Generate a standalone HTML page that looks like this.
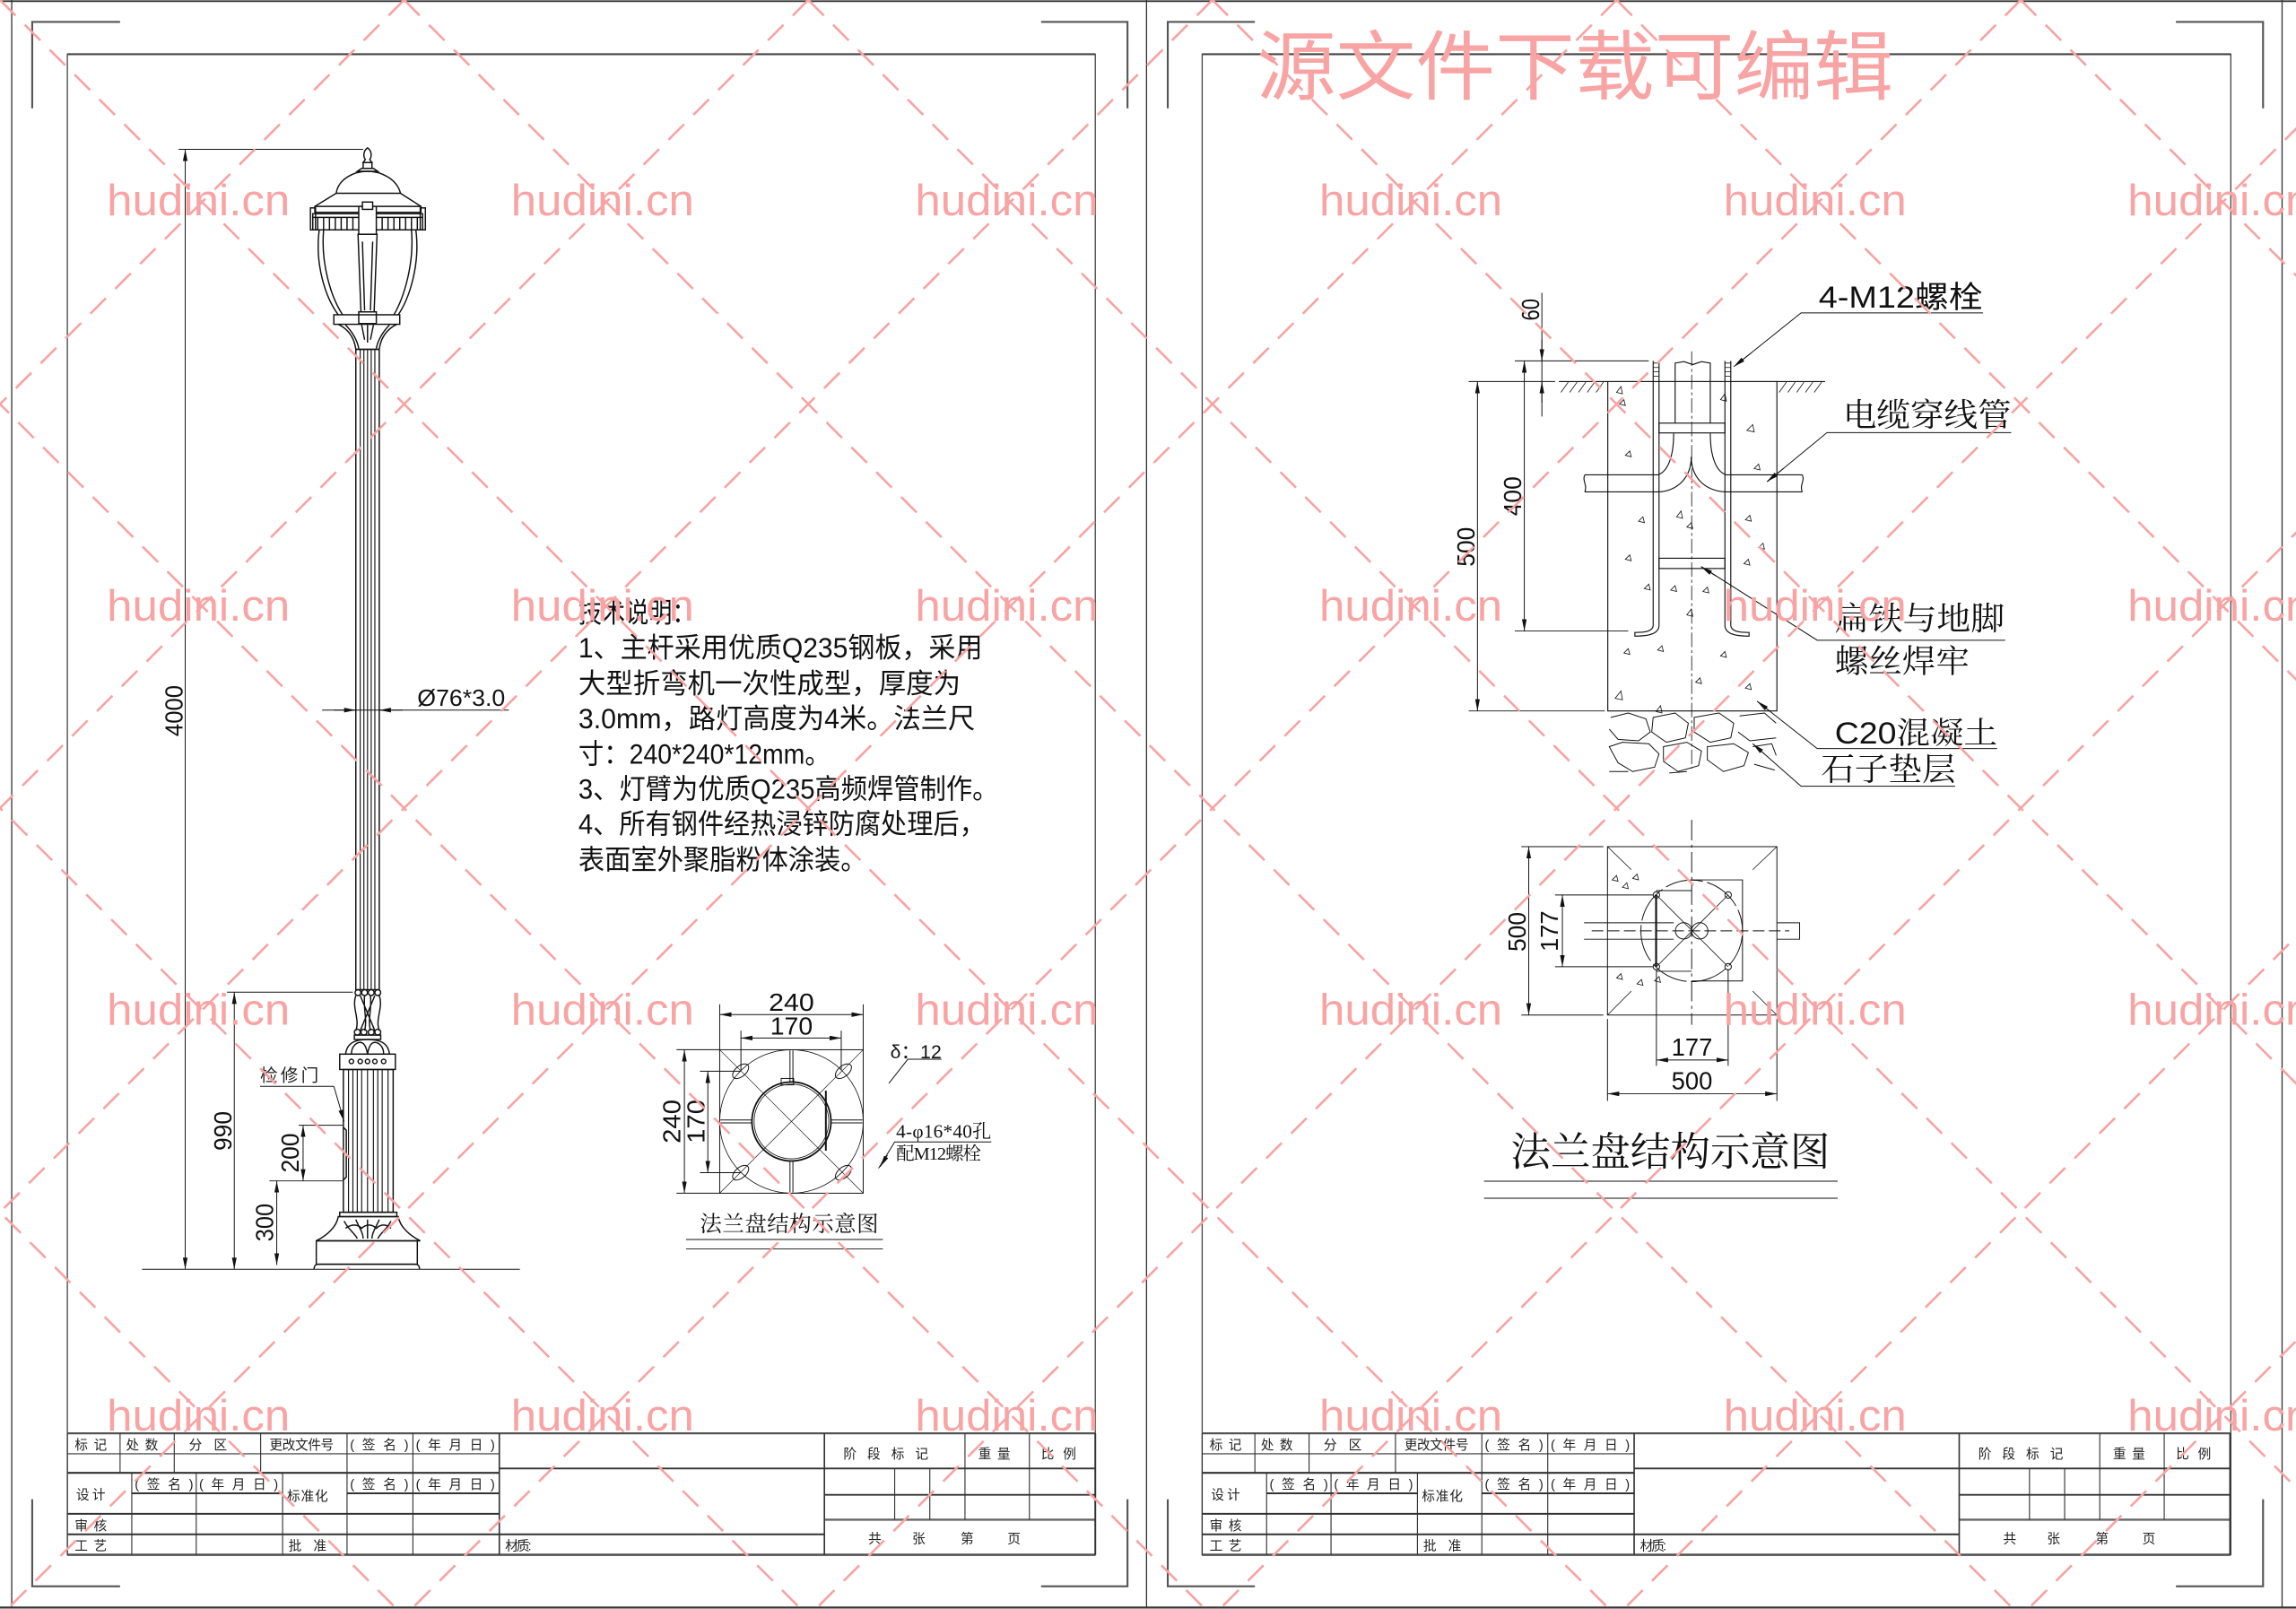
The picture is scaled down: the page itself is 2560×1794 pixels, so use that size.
<!DOCTYPE html>
<html><head><meta charset="utf-8">
<style>
html,body{margin:0;padding:0;background:#fff;}
svg{display:block;}
</style></head>
<body>
<svg xmlns="http://www.w3.org/2000/svg" width="2560" height="1794" viewBox="0 0 1568 1099" preserveAspectRatio="none">
<defs>
<marker id="ar" markerUnits="userSpaceOnUse" markerWidth="9" markerHeight="4" refX="8" refY="1.6" orient="auto-start-reverse">
<path d="M0,0 L8,1.6 L0,3.2 z" fill="#111"/>
</marker>
</defs>
<rect width="1568" height="1099" fill="#fff"/>

<g fill="none" stroke="#333" stroke-width="0.8">
<line x1="0" y1="0.8" x2="1568" y2="0.8" stroke-width="1.2"/>
<line x1="0" y1="1098" x2="1568" y2="1098" stroke-width="1.4"/>
<line x1="8" y1="0" x2="8" y2="1098"/>
<line x1="783" y1="0" x2="783" y2="1098"/>
<line x1="1558.5" y1="0" x2="1558.5" y2="1098"/>
</g>
<g fill="none" stroke="#555" stroke-width="1.3">
<polyline points="22,74 22,15 82,15"/><polyline points="711,15 770,15 770,74"/>
<polyline points="22,1024 22,1083.5 82,1083.5"/><polyline points="711,1083.5 770,1083.5 770,1024"/>
<polyline points="797.5,74 797.5,15 857,15"/><polyline points="1486,15 1545.5,15 1545.5,74"/>
<polyline points="797.5,1024 797.5,1083.5 857,1083.5"/><polyline points="1486,1083.5 1545.5,1083.5 1545.5,1024"/>
</g>
<g fill="none" stroke="#444" stroke-width="0.8">
<rect x="46" y="37" width="702" height="1025"/>
<rect x="821" y="37" width="702.5" height="1025"/>
<line x1="46" y1="37" x2="748" y2="37" stroke-width="1.3"/>
<line x1="821" y1="37" x2="1523.5" y2="37" stroke-width="1.3"/>
</g>

<g id="tb">
<g fill="none" stroke="#333" stroke-width="0.7">
<line x1="46" y1="979" x2="748" y2="979" stroke-width="1.4" stroke="#555"/>
<line x1="46" y1="993" x2="341" y2="993"/>
<line x1="46" y1="1006" x2="341" y2="1006" stroke-width="1.3"/>
<line x1="90" y1="1020" x2="193" y2="1020" stroke-width="1.2"/>
<line x1="237" y1="1020" x2="341" y2="1020" stroke-width="1.2"/>
<line x1="46" y1="1034" x2="341" y2="1034" stroke-width="1.2"/>
<line x1="46" y1="1048" x2="563" y2="1048" stroke-width="1.2"/>
<line x1="46" y1="1062" x2="748" y2="1062" stroke-width="1.6" stroke="#555"/>
<line x1="341" y1="1003" x2="748" y2="1003" stroke-width="1.1"/>
<line x1="563" y1="1021" x2="748" y2="1021" stroke-width="1.1"/>
<line x1="563" y1="1038" x2="748" y2="1038" stroke-width="1.4" stroke="#666"/>
<line x1="46" y1="979" x2="46" y2="1062"/>
<line x1="748" y1="979" x2="748" y2="1062" stroke-width="1.2"/>
<line x1="82" y1="979" x2="82" y2="1006"/>
<line x1="119" y1="979" x2="119" y2="1006"/>
<line x1="178" y1="979" x2="178" y2="1006"/>
<line x1="237" y1="979" x2="237" y2="1062"/>
<line x1="282" y1="979" x2="282" y2="1062"/>
<line x1="341" y1="979" x2="341" y2="1062" stroke-width="1"/>
<line x1="90" y1="1006" x2="90" y2="1062"/>
<line x1="134" y1="1006" x2="134" y2="1062"/>
<line x1="193" y1="1006" x2="193" y2="1062"/>
<line x1="563" y1="979" x2="563" y2="1062" stroke-width="1"/>
<line x1="611" y1="1003" x2="611" y2="1038"/>
<line x1="635" y1="1003" x2="635" y2="1038"/>
<line x1="659" y1="979" x2="659" y2="1038"/>
<line x1="703" y1="979" x2="703" y2="1038"/>
</g>
<g font-family="'Liberation Sans','Noto Sans CJK SC',sans-serif" font-size="9" fill="#222">
<text x="51" y="990" textLength="22">标 记</text>
<text x="86" y="990" textLength="22">处 数</text>
<text x="129" y="990" textLength="26">分 区</text>
<text x="184" y="990" textLength="44">更改文件号</text>
<text x="239" y="990" textLength="40">( 签 名 )</text>
<text x="284" y="990" textLength="54">( 年 月 日 )</text>
<text x="52" y="1024" textLength="20">设 计</text>
<text x="92" y="1017" textLength="40">( 签 名 )</text>
<text x="136" y="1017" textLength="54">( 年 月 日 )</text>
<text x="196" y="1025" textLength="28">标准化</text>
<text x="239" y="1017" textLength="40">( 签 名 )</text>
<text x="284" y="1017" textLength="54">( 年 月 日 )</text>
<text x="51" y="1045" textLength="22">审 核</text>
<text x="51" y="1059" textLength="22">工 艺</text>
<text x="197" y="1059" textLength="26">批 准</text>
<text x="345" y="1059" textLength="18">材质:</text>
<text x="576" y="996" textLength="58">阶 段 标 记</text>
<text x="668" y="996" textLength="22">重 量</text>
<text x="711" y="996" textLength="24">比 例</text>
<text x="593" y="1054">共</text>
<text x="623" y="1054">张</text>
<text x="656" y="1054">第</text>
<text x="688" y="1054">页</text>
</g>
</g>
<g transform="translate(775,0)">
<g fill="none" stroke="#333" stroke-width="0.7">
<line x1="46" y1="979" x2="748" y2="979" stroke-width="1.4" stroke="#555"/>
<line x1="46" y1="993" x2="341" y2="993"/>
<line x1="46" y1="1006" x2="341" y2="1006" stroke-width="1.3"/>
<line x1="90" y1="1020" x2="193" y2="1020" stroke-width="1.2"/>
<line x1="237" y1="1020" x2="341" y2="1020" stroke-width="1.2"/>
<line x1="46" y1="1034" x2="341" y2="1034" stroke-width="1.2"/>
<line x1="46" y1="1048" x2="563" y2="1048" stroke-width="1.2"/>
<line x1="46" y1="1062" x2="748" y2="1062" stroke-width="1.6" stroke="#555"/>
<line x1="341" y1="1003" x2="748" y2="1003" stroke-width="1.1"/>
<line x1="563" y1="1021" x2="748" y2="1021" stroke-width="1.1"/>
<line x1="563" y1="1038" x2="748" y2="1038" stroke-width="1.4" stroke="#666"/>
<line x1="46" y1="979" x2="46" y2="1062"/>
<line x1="748" y1="979" x2="748" y2="1062" stroke-width="1.2"/>
<line x1="82" y1="979" x2="82" y2="1006"/>
<line x1="119" y1="979" x2="119" y2="1006"/>
<line x1="178" y1="979" x2="178" y2="1006"/>
<line x1="237" y1="979" x2="237" y2="1062"/>
<line x1="282" y1="979" x2="282" y2="1062"/>
<line x1="341" y1="979" x2="341" y2="1062" stroke-width="1"/>
<line x1="90" y1="1006" x2="90" y2="1062"/>
<line x1="134" y1="1006" x2="134" y2="1062"/>
<line x1="193" y1="1006" x2="193" y2="1062"/>
<line x1="563" y1="979" x2="563" y2="1062" stroke-width="1"/>
<line x1="611" y1="1003" x2="611" y2="1038"/>
<line x1="635" y1="1003" x2="635" y2="1038"/>
<line x1="659" y1="979" x2="659" y2="1038"/>
<line x1="703" y1="979" x2="703" y2="1038"/>
</g>
<g font-family="'Liberation Sans','Noto Sans CJK SC',sans-serif" font-size="9" fill="#222">
<text x="51" y="990" textLength="22">标 记</text>
<text x="86" y="990" textLength="22">处 数</text>
<text x="129" y="990" textLength="26">分 区</text>
<text x="184" y="990" textLength="44">更改文件号</text>
<text x="239" y="990" textLength="40">( 签 名 )</text>
<text x="284" y="990" textLength="54">( 年 月 日 )</text>
<text x="52" y="1024" textLength="20">设 计</text>
<text x="92" y="1017" textLength="40">( 签 名 )</text>
<text x="136" y="1017" textLength="54">( 年 月 日 )</text>
<text x="196" y="1025" textLength="28">标准化</text>
<text x="239" y="1017" textLength="40">( 签 名 )</text>
<text x="284" y="1017" textLength="54">( 年 月 日 )</text>
<text x="51" y="1045" textLength="22">审 核</text>
<text x="51" y="1059" textLength="22">工 艺</text>
<text x="197" y="1059" textLength="26">批 准</text>
<text x="345" y="1059" textLength="18">材质:</text>
<text x="576" y="996" textLength="58">阶 段 标 记</text>
<text x="668" y="996" textLength="22">重 量</text>
<text x="711" y="996" textLength="24">比 例</text>
<text x="593" y="1054">共</text>
<text x="623" y="1054">张</text>
<text x="656" y="1054">第</text>
<text x="688" y="1054">页</text>
</g>
</g>

<g fill="none" stroke="#111" stroke-width="0.9">
<path d="M251,101 C254,103 254,107 252.5,109 L254,111 L248,111 L249.5,109 C248,107 248,103 251,101 Z"/>
<rect x="248" y="111" width="6" height="4"/>
<path d="M244,117 L247,115 L255,115 L258,117 Z"/>
<path d="M229.6,132 C231,122 242,117 251,117 C260,117 271,122 273.5,132 Z"/>
<path d="M229.6,132 L215,141 L215,145 L287.5,145 L287.5,141 L273.5,132"/>
<line x1="215" y1="141" x2="287.5" y2="141"/>
<rect x="212" y="142" width="3.5" height="15"/><rect x="287" y="142" width="3.5" height="15"/>
<rect x="213.6" y="146" width="75" height="11"/>
<line x1="213.6" y1="148.5" x2="288.6" y2="148.5"/>
<path d="M217,148.5V157M221,148.5V157M225,148.5V157M229,148.5V157M233,148.5V157M237,148.5V157M241,148.5V157M261,148.5V157M265,148.5V157M269,148.5V157M273,148.5V157M277,148.5V157M281,148.5V157M285,148.5V157"/>
<rect x="245" y="141" width="12" height="19" fill="#fff"/>
<rect x="247.5" y="138" width="7" height="5" fill="#fff"/>
<path d="M218,157 C215,180 222,203 231,215"/>
<path d="M221,157 C219,180 226,203 234,215"/>
<path d="M284,157 C287,180 280,203 272,215"/>
<path d="M281,157 C283,180 276,203 269,215"/>
<path d="M244.5,160 L246.5,213 L255.5,213 L257.5,160 Z"/>
<path d="M247.5,165 L249,212 M254.5,165 L253,212"/>
<rect x="228" y="215" width="45" height="6.5"/>
<rect x="245" y="213" width="12" height="8"/>
<path d="M231,221.5 C238,225 242,231 243,238.6 L259,238.6 C260,231 264,225 271,221.5"/>
<path d="M236,222 C240,226 244,232 245,238 M266,222 C262,226 258,232 257,238 M247,222 L249,232 M255,222 L253,232 M251,222 V234"/>
<rect x="243" y="238.6" width="16" height="437.4"/>
<path d="M246,238.6V676M248.5,238.6V676M251,238.6V676M253.5,238.6V676M256,238.6V676" stroke-width="0.7"/>
<circle cx="244.5" cy="678" r="2"/><circle cx="249" cy="678" r="2"/><circle cx="253.5" cy="678" r="2"/><circle cx="258" cy="678" r="2"/>
<path d="M243,680 C240,688 246,696 243,704 M259,680 C262,688 256,696 259,704 M246,680 L256,704 M256,680 L246,704 M249,680 C248,690 251,696 249,704 M253,680 C254,690 251,696 253,704"/>
<circle cx="244" cy="705" r="2"/><circle cx="248.5" cy="705" r="2"/><circle cx="253.5" cy="705" r="2"/><circle cx="258" cy="705" r="2"/>
<rect x="242" y="707" width="18" height="3"/>
<path d="M236,720 C237,712 243,710 251,710 C259,710 265,712 266,720 Z"/>
<path d="M240,720 C240,714 244,712 246,712 C248,712 250,714 251,720 C252,714 254,712 256,712 C258,712 262,714 262,720"/>
<rect x="232" y="720" width="38" height="10.5"/>
<circle cx="240" cy="725" r="1.5"/><circle cx="246" cy="725" r="1.5"/><circle cx="251" cy="725" r="1.5"/><circle cx="256" cy="725" r="1.5"/><circle cx="262" cy="725" r="1.5"/>
<rect x="234.5" y="730.5" width="34" height="97.5"/>
<path d="M238,730.5V828M241,730.5V828M244,730.5V828M247,730.5V828M251,730.5V828M255,730.5V828M258,730.5V828M261,730.5V828M265,730.5V828" stroke-width="0.7"/>
<path d="M234.5,770 L236.5,772 L236.5,804 L234.5,806"/>
<rect x="232" y="828" width="39" height="3"/>
<path d="M231,831 L272,831 C273,838 280,844 287,847.5 L216,847.5 C223,844 230,838 231,831 Z"/>
<path d="M235,834 C238,840 242,842 244,846 M243,833 C245,838 248,842 248,846 M251,833 V846 M259,833 C257,838 254,842 254,846 M267,834 C264,840 260,842 258,846"/>
<path d="M236,839 C240,836 244,836 247,839 C250,836 254,836 257,839 C260,836 264,836 267,839"/>
<rect x="216" y="847.5" width="69" height="16"/>
<path d="M214.5,867 C214.5,864 216,863.5 218,863.5 L283,863.5 C285,863.5 286.5,864 286.5,867"/>
</g>

<g fill="none" stroke="#111" stroke-width="0.6">
<line x1="122" y1="102" x2="248" y2="102"/>
<line x1="97" y1="867" x2="355" y2="867"/>
<line x1="126.5" y1="102" x2="126.5" y2="867" marker-start="url(#ar)" marker-end="url(#ar)"/>
<line x1="155" y1="677.7" x2="241" y2="677.7"/>
<line x1="160" y1="677.7" x2="160" y2="867" marker-start="url(#ar)" marker-end="url(#ar)"/>
<line x1="204" y1="768.6" x2="234" y2="768.6"/>
<line x1="184" y1="806.6" x2="234" y2="806.6"/>
<line x1="207" y1="768.6" x2="207" y2="806.6" marker-start="url(#ar)" marker-end="url(#ar)"/>
<line x1="189" y1="806.6" x2="189" y2="864" marker-start="url(#ar)" marker-end="url(#ar)"/>
<line x1="177.6" y1="742" x2="228" y2="742"/>
<line x1="228" y1="742" x2="235" y2="766" marker-end="url(#ar)"/>
<line x1="220" y1="485" x2="347.5" y2="485"/>
<line x1="228" y1="485" x2="243" y2="485" marker-end="url(#ar)"/>
<line x1="275" y1="485" x2="259" y2="485" marker-end="url(#ar)"/>
</g>
<g font-family="'Liberation Sans',sans-serif" font-size="17" fill="#111">
<text transform="translate(124.5,503) rotate(-90)" textLength="35" lengthAdjust="spacingAndGlyphs">4000</text>
<text transform="translate(158,786) rotate(-90)" textLength="27" lengthAdjust="spacingAndGlyphs">990</text>
<text transform="translate(204,801) rotate(-90)" textLength="27" lengthAdjust="spacingAndGlyphs">200</text>
<text transform="translate(186.5,848) rotate(-90)" textLength="26" lengthAdjust="spacingAndGlyphs">300</text>
<text x="285" y="482" font-size="16" textLength="60" lengthAdjust="spacingAndGlyphs">Ø76*3.0</text>
</g>
<text x="177.6" y="738.5" font-family="'Liberation Sans','Noto Sans CJK SC',sans-serif" font-size="12" fill="#222" textLength="40">检修门</text>

<g font-family="'Liberation Sans','Noto Sans CJK SC',sans-serif" font-size="19" fill="#111">
<text x="395" y="425" textLength="80" lengthAdjust="spacingAndGlyphs">技术说明：</text>
<text x="395" y="449" textLength="276" lengthAdjust="spacingAndGlyphs">1、主杆采用优质Q235钢板，采用</text>
<text x="395" y="473.5" textLength="261" lengthAdjust="spacingAndGlyphs">大型折弯机一次性成型，厚度为</text>
<text x="395" y="497.5" textLength="271" lengthAdjust="spacingAndGlyphs">3.0mm，路灯高度为4米。法兰尺</text>
<text x="395" y="521.5" textLength="172" lengthAdjust="spacingAndGlyphs">寸：240*240*12mm。</text>
<text x="395" y="545.5" textLength="287" lengthAdjust="spacingAndGlyphs">3、灯臂为优质Q235高频焊管制作。</text>
<text x="395" y="569.5" textLength="278" lengthAdjust="spacingAndGlyphs">4、所有钢件经热浸锌防腐处理后，</text>
<text x="395" y="594" textLength="197" lengthAdjust="spacingAndGlyphs">表面室外聚脂粉体涂装。</text>
</g>

<g fill="none" stroke="#111" stroke-width="0.6">
<rect x="491.5" y="717" width="98" height="98"/>
<line x1="491.5" y1="717" x2="589.5" y2="815" stroke-width="0.4"/>
<line x1="589.5" y1="717" x2="491.5" y2="815" stroke-width="0.4"/>
<circle cx="540.5" cy="766" r="49" stroke-width="0.5"/>
<circle cx="540.5" cy="766" r="27" stroke-width="1.1"/>
<circle cx="540.5" cy="766" r="25.5" stroke-width="0.5"/>
<path d="M539.5,717.5V739M541.5,717.5V739M539.5,793V814.5M541.5,793V814.5M492,765H513.5M492,767H513.5M567.5,765H589M567.5,767H589"/>
<rect x="533.5" y="736.6" width="8.5" height="4.4"/>
<line x1="564" y1="745" x2="564" y2="786" stroke-width="1.2"/>
<ellipse cx="505.8" cy="731.7" rx="6.5" ry="3.6" transform="rotate(-40 505.8 731.7)"/>
<ellipse cx="576" cy="731.7" rx="6.5" ry="3.6" transform="rotate(-40 576 731.7)"/>
<ellipse cx="505.8" cy="801" rx="6.5" ry="3.6" transform="rotate(-40 505.8 801)"/>
<ellipse cx="576" cy="801" rx="6.5" ry="3.6" transform="rotate(-40 576 801)"/>
<line x1="491.5" y1="686" x2="491.5" y2="717"/>
<line x1="589.5" y1="686" x2="589.5" y2="717"/>
<line x1="491.5" y1="693" x2="589.5" y2="693" marker-start="url(#ar)" marker-end="url(#ar)"/>
<line x1="506" y1="704" x2="506" y2="731"/>
<line x1="574.5" y1="704" x2="574.5" y2="731"/>
<line x1="506" y1="709" x2="574.5" y2="709" marker-start="url(#ar)" marker-end="url(#ar)"/>
<line x1="462" y1="717" x2="491.5" y2="717"/>
<line x1="462" y1="815" x2="491.5" y2="815"/>
<line x1="467.4" y1="717" x2="467.4" y2="815" marker-start="url(#ar)" marker-end="url(#ar)"/>
<line x1="478" y1="731.7" x2="505.8" y2="731.7"/>
<line x1="478" y1="801" x2="505.8" y2="801"/>
<line x1="483.4" y1="731.7" x2="483.4" y2="801" marker-start="url(#ar)" marker-end="url(#ar)"/>
<polyline points="607,740 620,723.5 643,723.5"/>
<polyline points="677,780 611,780 600,798" />
<line x1="606" y1="789" x2="601" y2="797" marker-end="url(#ar)"/>
<line x1="468.5" y1="846.6" x2="603" y2="846.6"/>
<line x1="468.5" y1="853" x2="603" y2="853"/>
</g>
<g font-family="'Liberation Sans',sans-serif" font-size="17" fill="#111">
<text x="540.5" y="690.5" text-anchor="middle" textLength="31" lengthAdjust="spacingAndGlyphs">240</text>
<text x="540.5" y="706.5" text-anchor="middle" textLength="29" lengthAdjust="spacingAndGlyphs">170</text>
<text transform="translate(464.5,781) rotate(-90)" textLength="30" lengthAdjust="spacingAndGlyphs">240</text>
<text transform="translate(481,781) rotate(-90)" textLength="30" lengthAdjust="spacingAndGlyphs">170</text>
<text x="608" y="723" font-size="13" textLength="35">δ：12</text>
<text x="612" y="777" font-size="13" textLength="65" font-family="'Liberation Serif','Noto Serif CJK SC',serif">4-φ16*40孔</text>
<text x="612" y="792" font-size="12.5" textLength="58" font-family="'Liberation Serif','Noto Serif CJK SC',serif">配M12螺栓</text>
<text x="478" y="841" font-size="15" textLength="122" font-family="'Liberation Serif','Noto Serif CJK SC',serif">法兰盘结构示意图</text>
</g>

<g fill="none" stroke="#111" stroke-width="0.7">
<rect x="1098" y="260.6" width="115.5" height="225"/>
<line x1="1064.6" y1="260.6" x2="1098" y2="260.6"/>
<line x1="1213.5" y1="260.6" x2="1246.4" y2="260.6"/>
<path d="M1066,268l5,-7M1072,268l5,-7M1078,268l5,-7M1084,268l5,-7M1090,268l5,-7M1215,268l5,-7M1221,268l5,-7M1227,268l5,-7M1233,268l5,-7M1239,268l5,-7" stroke-width="0.5"/>
<path d="M1144,289 V248 L1150,247 L1156,249 L1162,247 L1168,248 V289"/>
<rect x="1133" y="289" width="45" height="6.7"/>
<rect x="1133" y="381.3" width="45" height="7"/>
<path d="M1129,246.5 V427 C1129,431 1124,432 1116.5,432 L1116.5,434.5 C1126,434.5 1133,433 1133,427 V246.5"/>
<path d="M1178,246.5 V427 C1178,433 1185,434.5 1194.5,434.5 L1194.5,432 C1187,432 1182,431 1182,427 V246.5"/>
<path d="M1129,248h4M1129,251h4M1129,254h4M1129,257h4M1178,248h4M1178,251h4M1178,254h4M1178,257h4" stroke-width="0.5"/>
<path d="M1082.3,324.3 H1133 M1082.3,336 H1133 M1178,324.3 H1230.8 M1178,336 H1230.8"/>
<path d="M1082.3,324.3 c-2,4 2,7 0,11.7 M1230.8,324.3 c2,4 -2,7 0,11.7"/>
<path d="M1143,296 C1143,314 1138,322 1133,324 M1168,296 C1168,314 1173,322 1178,324"/>
<path d="M1155,312 C1155,326 1146,335 1133,336 M1155,312 C1155,326 1164,335 1178,336"/>
<line x1="1155.3" y1="240" x2="1155.3" y2="525" stroke-width="0.5" stroke-dasharray="10 2 2 2"/>
<g stroke-width="0.6">
<path d="M1100,490 L1112,487 L1124,491 L1127,500 L1119,506 L1105,505 L1099,498"/>
<path d="M1129,490 L1144,487 L1153,494 L1151,504 L1138,507 L1128,500 Z"/>
<path d="M1157,490 L1174,487 L1184,494 L1182,504 L1168,507 L1157,500 Z"/>
<path d="M1188,489 L1205,487 L1213,494 M1187,500 L1195,506 L1213,504"/>
<path d="M1099,510 L1108,507 L1126,508 L1133,515 L1130,524 L1115,527 L1105,521 Z"/>
<path d="M1136,510 L1152,507 L1162,513 L1160,523 L1146,527 L1136,520 Z"/>
<path d="M1166,510 L1184,508 L1194,514 L1191,523 L1177,527 L1166,519 Z"/>
<path d="M1197,510 L1210,508 L1213,516 M1198,522 L1212,526"/>
<path d="M1099,527 L1112,527 M1140,528 L1152,527"/>
</g>
<g stroke-width="0.5">
<path d="M1104,268l3,-4l1,5z M1106,276l3,-3l1,4z M1175,273l3,-4l1,5z M1193,294l4,-4l1,5z M1110,311l3,-3l1,4z M1198,320l3,-3l1,4z M1119,356l3,-3l1,4z M1145,353l3,-4l1,5z M1152,360l3,-3l1,4z M1192,355l3,-3l1,4z M1201,374l3,-3l1,4z M1110,382l3,-3l1,4z M1191,385l3,-3l1,4z M1123,402l3,-3l1,4z M1141,403l3,-3l1,4z M1163,404l3,-3l1,4z M1152,420l3,-4l1,5z M1109,446l3,-3l1,4z M1132,444l3,-3l1,4z M1175,448l3,-3l1,4z M1158,466l3,-3l1,4z M1103,477l4,-5l1,6z M1192,470l3,-3l1,4z M1131,486l3,-4l1,5z"/>
</g>
</g>
<g fill="none" stroke="#111" stroke-width="0.6">
<line x1="1034.5" y1="246.5" x2="1126" y2="246.5"/>
<line x1="1003" y1="260.6" x2="1062" y2="260.6"/>
<line x1="1034.5" y1="431" x2="1112" y2="431"/>
<line x1="1003" y1="485.6" x2="1096" y2="485.6"/>
<line x1="1009" y1="260.6" x2="1009" y2="485.6" marker-start="url(#ar)" marker-end="url(#ar)"/>
<line x1="1041" y1="246.5" x2="1041" y2="431" marker-start="url(#ar)" marker-end="url(#ar)"/>
<line x1="1053" y1="200" x2="1053" y2="284.5"/>
<line x1="1053" y1="232" x2="1053" y2="246.5" marker-end="url(#ar)"/>
<line x1="1053" y1="275" x2="1053" y2="260.6" marker-end="url(#ar)"/>
<polyline points="1354.3,213.7 1230,213.7 1186,249"/>
<line x1="1196" y1="241" x2="1184" y2="250.5" marker-end="url(#ar)"/>
<polyline points="1373.5,295.5 1247.7,295.5 1207,329"/>
<line x1="1218" y1="320" x2="1206.7" y2="329" marker-end="url(#ar)"/>
<polyline points="1369.4,437.3 1241,437.3 1162,387"/>
<line x1="1172" y1="393.5" x2="1161.6" y2="387" marker-end="url(#ar)"/>
<polyline points="1364,511.3 1241,511.3 1200,479"/>
<line x1="1209" y1="486" x2="1200" y2="479" marker-end="url(#ar)"/>
<polyline points="1335.2,537 1230,537 1197,508"/>
<line x1="1205" y1="515" x2="1197" y2="508" marker-end="url(#ar)"/>
</g>
<g font-family="'Liberation Sans',sans-serif" fill="#111">
<text transform="translate(1007,387) rotate(-90)" font-size="17" textLength="27" lengthAdjust="spacingAndGlyphs">500</text>
<text transform="translate(1038.8,352.4) rotate(-90)" font-size="17" textLength="27" lengthAdjust="spacingAndGlyphs">400</text>
<text transform="translate(1051,219) rotate(-90)" font-size="17" textLength="15" lengthAdjust="spacingAndGlyphs">60</text>
<text x="1242" y="210" font-size="21" textLength="112" lengthAdjust="spacingAndGlyphs" font-family="'Liberation Sans','Noto Sans CJK SC',sans-serif">4-M12螺栓</text>
<text x="1258.6" y="291" font-size="22" textLength="115" lengthAdjust="spacingAndGlyphs" font-family="'Liberation Serif','Noto Serif CJK SC',serif">电缆穿线管</text>
<text x="1253" y="430" font-size="22" textLength="116" lengthAdjust="spacingAndGlyphs" font-family="'Liberation Serif','Noto Serif CJK SC',serif">扁铁与地脚</text>
<text x="1253" y="459" font-size="22" textLength="92" lengthAdjust="spacingAndGlyphs" font-family="'Liberation Serif','Noto Serif CJK SC',serif">螺丝焊牢</text>
<text x="1253" y="508" font-size="21" textLength="111" lengthAdjust="spacingAndGlyphs" font-family="'Liberation Sans','Noto Serif CJK SC',serif">C20混凝土</text>
<text x="1243.6" y="533" font-size="22" textLength="92" lengthAdjust="spacingAndGlyphs" font-family="'Liberation Serif','Noto Serif CJK SC',serif">石子垫层</text>
</g>

<g fill="none" stroke="#111" stroke-width="0.6">
<rect x="1097.8" y="578.3" width="115.7" height="115"/>
<path d="M1097.8,578.3 L1114,594 M1213.5,578.3 L1197,594 M1097.8,693.3 L1114,677 M1213.5,693.3 L1197,677" stroke-width="0.5"/>
<path d="M1155.3,601 H1190 V670 H1155.3"/>
<path d="M1131,608.3 H1155.3 M1131,663.4 H1155.3"/>
<line x1="1131" y1="611" x2="1131" y2="660" stroke-width="1.3"/>
<circle cx="1155.3" cy="635.8" r="34.7" stroke-dasharray="26 3"/>
<path d="M1131.2,611.3 L1180.2,660.3 M1180.2,611.3 L1131.2,660.3" stroke-width="0.5"/>
<circle cx="1131.2" cy="611.3" r="2.2"/><circle cx="1180.2" cy="611.3" r="2.2"/>
<circle cx="1131.2" cy="660.3" r="2.2"/><circle cx="1180.2" cy="660.3" r="2.2"/>
<circle cx="1149.8" cy="635.8" r="5.6"/><circle cx="1160.8" cy="635.8" r="5.6"/>
<path d="M1081.8,630.3 H1143 M1081.8,641.5 H1143 M1213.5,630.3 H1229 V641.5 H1213.5"/>
<line x1="1087" y1="635.8" x2="1222" y2="635.8" stroke-dasharray="8 3"/>
<line x1="1155.3" y1="560" x2="1155.3" y2="700" stroke-dasharray="14 3 2 3"/>
<path d="M1101,601l3,-3l1,4z M1108,606l3,-3l1,4z M1115,600l3,-3l1,4z M1104,668l3,-3l1,4z M1118,672l3,-3l1,4z M1130,670l3,-3l1,4z" stroke-width="0.5"/>
<line x1="1039" y1="578.3" x2="1095" y2="578.3"/>
<line x1="1039" y1="693.3" x2="1095" y2="693.3"/>
<line x1="1044" y1="578.3" x2="1044" y2="693.3" marker-start="url(#ar)" marker-end="url(#ar)"/>
<line x1="1062" y1="611.3" x2="1129" y2="611.3"/>
<line x1="1062" y1="660.3" x2="1129" y2="660.3"/>
<line x1="1067" y1="611.3" x2="1067" y2="660.3" marker-start="url(#ar)" marker-end="url(#ar)"/>
<line x1="1131.2" y1="662" x2="1131.2" y2="728"/>
<line x1="1180.2" y1="662" x2="1180.2" y2="728"/>
<line x1="1131.2" y1="724" x2="1180.2" y2="724" marker-start="url(#ar)" marker-end="url(#ar)"/>
<line x1="1097.8" y1="696" x2="1097.8" y2="752"/>
<line x1="1213.5" y1="696" x2="1213.5" y2="752"/>
<line x1="1097.8" y1="747.1" x2="1213.5" y2="747.1" marker-start="url(#ar)" marker-end="url(#ar)"/>
<line x1="1013.5" y1="806.8" x2="1255" y2="806.8"/>
<line x1="1013.5" y1="818.4" x2="1255" y2="818.4"/>
</g>
<g font-family="'Liberation Sans',sans-serif" font-size="17" fill="#111">
<text transform="translate(1042,650) rotate(-90)" textLength="27" lengthAdjust="spacingAndGlyphs">500</text>
<text transform="translate(1064,650) rotate(-90)" textLength="28" lengthAdjust="spacingAndGlyphs">177</text>
<text x="1155.5" y="721" text-anchor="middle" textLength="28" lengthAdjust="spacingAndGlyphs">177</text>
<text x="1155.5" y="744" text-anchor="middle" textLength="28" lengthAdjust="spacingAndGlyphs">500</text>
<text x="1031.7" y="796" font-size="27" textLength="218" lengthAdjust="spacingAndGlyphs" font-family="'Liberation Serif','Noto Serif CJK SC',serif">法兰盘结构示意图</text>
</g>

<g stroke="#f7a3a3" stroke-width="1.6" stroke-dasharray="15 9" fill="none">
<line x1="-1104" y1="0" x2="0" y2="1104"/>
<line x1="-828" y1="0" x2="276" y2="1104"/>
<line x1="-552" y1="0" x2="552" y2="1104"/>
<line x1="-276" y1="0" x2="828" y2="1104"/>
<line x1="0" y1="0" x2="1104" y2="1104"/>
<line x1="276" y1="0" x2="1380" y2="1104"/>
<line x1="552" y1="0" x2="1656" y2="1104"/>
<line x1="828" y1="0" x2="1932" y2="1104"/>
<line x1="1104" y1="0" x2="2208" y2="1104"/>
<line x1="1380" y1="0" x2="2484" y2="1104"/>
<line x1="276" y1="0" x2="-828" y2="1104"/>
<line x1="552" y1="0" x2="-552" y2="1104"/>
<line x1="828" y1="0" x2="-276" y2="1104"/>
<line x1="1104" y1="0" x2="0" y2="1104"/>
<line x1="1380" y1="0" x2="276" y2="1104"/>
<line x1="1656" y1="0" x2="552" y2="1104"/>
<line x1="1932" y1="0" x2="828" y2="1104"/>
<line x1="2208" y1="0" x2="1104" y2="1104"/>
<line x1="2484" y1="0" x2="1380" y2="1104"/>
<line x1="2760" y1="0" x2="1656" y2="1104"/>
</g>
<g font-family="'Liberation Sans',sans-serif" font-size="30" fill="#f8a4a4">
<text x="73" y="147" textLength="125" lengthAdjust="spacingAndGlyphs">hudini.cn</text>
<text x="349" y="147" textLength="125" lengthAdjust="spacingAndGlyphs">hudini.cn</text>
<text x="625" y="147" textLength="125" lengthAdjust="spacingAndGlyphs">hudini.cn</text>
<text x="901" y="147" textLength="125" lengthAdjust="spacingAndGlyphs">hudini.cn</text>
<text x="1177" y="147" textLength="125" lengthAdjust="spacingAndGlyphs">hudini.cn</text>
<text x="1453" y="147" textLength="125" lengthAdjust="spacingAndGlyphs">hudini.cn</text>
<text x="73" y="424" textLength="125" lengthAdjust="spacingAndGlyphs">hudini.cn</text>
<text x="349" y="424" textLength="125" lengthAdjust="spacingAndGlyphs">hudini.cn</text>
<text x="625" y="424" textLength="125" lengthAdjust="spacingAndGlyphs">hudini.cn</text>
<text x="901" y="424" textLength="125" lengthAdjust="spacingAndGlyphs">hudini.cn</text>
<text x="1177" y="424" textLength="125" lengthAdjust="spacingAndGlyphs">hudini.cn</text>
<text x="1453" y="424" textLength="125" lengthAdjust="spacingAndGlyphs">hudini.cn</text>
<text x="73" y="700" textLength="125" lengthAdjust="spacingAndGlyphs">hudini.cn</text>
<text x="349" y="700" textLength="125" lengthAdjust="spacingAndGlyphs">hudini.cn</text>
<text x="625" y="700" textLength="125" lengthAdjust="spacingAndGlyphs">hudini.cn</text>
<text x="901" y="700" textLength="125" lengthAdjust="spacingAndGlyphs">hudini.cn</text>
<text x="1177" y="700" textLength="125" lengthAdjust="spacingAndGlyphs">hudini.cn</text>
<text x="1453" y="700" textLength="125" lengthAdjust="spacingAndGlyphs">hudini.cn</text>
<text x="73" y="977" textLength="125" lengthAdjust="spacingAndGlyphs">hudini.cn</text>
<text x="349" y="977" textLength="125" lengthAdjust="spacingAndGlyphs">hudini.cn</text>
<text x="625" y="977" textLength="125" lengthAdjust="spacingAndGlyphs">hudini.cn</text>
<text x="901" y="977" textLength="125" lengthAdjust="spacingAndGlyphs">hudini.cn</text>
<text x="1177" y="977" textLength="125" lengthAdjust="spacingAndGlyphs">hudini.cn</text>
<text x="1453" y="977" textLength="125" lengthAdjust="spacingAndGlyphs">hudini.cn</text>
</g>
<text x="858" y="64" font-family="'Liberation Sans','Noto Sans CJK SC',sans-serif" font-size="52" fill="#f8a4a4" textLength="435" lengthAdjust="spacingAndGlyphs">源文件下载可编辑</text>
</svg>
</body></html>
